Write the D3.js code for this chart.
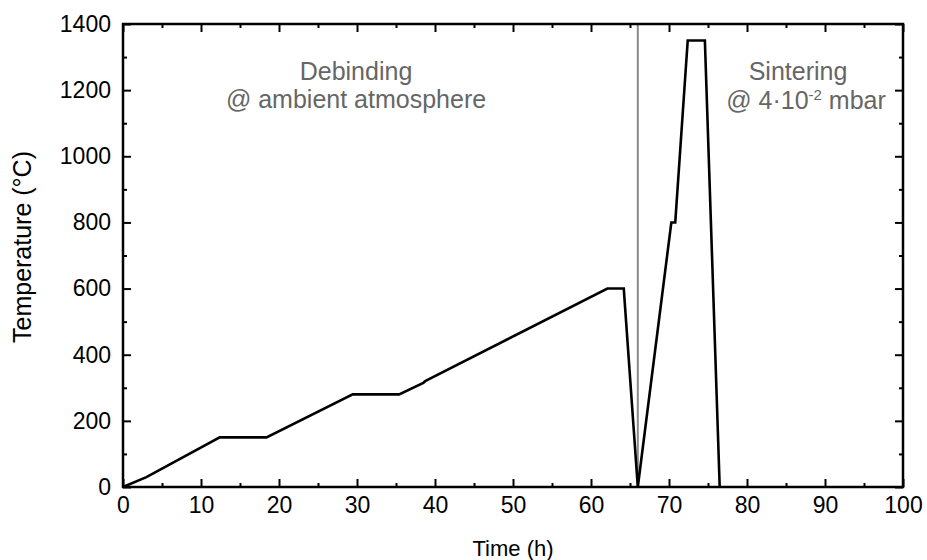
<!DOCTYPE html>
<html>
<head>
<meta charset="utf-8">
<script src="https://cdn.jsdelivr.net/npm/d3@7"></script>
<style>
  body { margin: 0; background: #fff; }
  text { font-family: "Liberation Sans", Arial, sans-serif; }
</style>
</head>
<body>
<svg id="chart" width="927" height="560"></svg>
<script>
// temperature profile
const timeH = [0, 3, 12.4, 18.4, 29.45, 35.4, 38.5, 38.8, 62.1, 64.2, 66.0, 70.3, 70.8, 72.4, 74.6, 76.5];
const tempC = [0, 30, 150, 150, 280, 280, 315, 321, 600, 600, 0, 800, 800, 1350, 1350, 0];
const xTicks = [0, 10, 20, 30, 40, 50, 60, 70, 80, 90, 100];
const yTicks = [0, 200, 400, 600, 800, 1000, 1200, 1400];
const splitTime = 66;
const debindLabel = ["Debinding", "@ ambient atmosphere"];
const sinterLabel = ["Sintering", "@ 4\u00b710", "-2", " mbar"];

const svg = d3.select("#chart");
const mLeft = 123, mRight = 903, mTop = 24, mBottom = 487;

let x = d3.scaleLinear().domain([0, 100]).range([mLeft, mRight]);
let y = d3.scaleLinear().domain([0, 1400]).range([mBottom, mTop]);

let xMinor = d3.range(5, 100, 10);
let yMinor = d3.range(100, 1400, 200);

// axes: ticks pointing inward, mirrored on top and right
function styleAxis(g) {
    g.selectAll(".domain").remove();
    g.selectAll("line").attr("stroke", "#000").attr("stroke-width", 2);
    g.selectAll("text").attr("font-size", 23).attr("fill", "#000")
        .attr("font-family", "'Liberation Sans', Arial, sans-serif");
}

svg.append("g").attr("transform", `translate(0,${mBottom})`)
    .call(d3.axisBottom(x).tickValues(xTicks).tickSize(-8).tickPadding(10).tickFormat(d3.format("d")))
    .call(styleAxis);
svg.append("g").attr("transform", `translate(0,${mBottom})`)
    .call(d3.axisBottom(x).tickValues(xMinor).tickSize(-4).tickFormat(""))
    .call(styleAxis);
svg.append("g").attr("transform", `translate(0,${mTop})`)
    .call(d3.axisTop(x).tickValues(xTicks).tickSize(-8).tickFormat(""))
    .call(styleAxis);
svg.append("g").attr("transform", `translate(0,${mTop})`)
    .call(d3.axisTop(x).tickValues(xMinor).tickSize(-4).tickFormat(""))
    .call(styleAxis);

svg.append("g").attr("transform", `translate(${mLeft},0)`)
    .call(d3.axisLeft(y).tickValues(yTicks).tickSize(-8).tickPadding(12).tickFormat(d3.format("d")))
    .call(styleAxis);
svg.append("g").attr("transform", `translate(${mLeft},0)`)
    .call(d3.axisLeft(y).tickValues(yMinor).tickSize(-4).tickFormat(""))
    .call(styleAxis);
svg.append("g").attr("transform", `translate(${mRight},0)`)
    .call(d3.axisRight(y).tickValues(yTicks).tickSize(-8).tickFormat(""))
    .call(styleAxis);
svg.append("g").attr("transform", `translate(${mRight},0)`)
    .call(d3.axisRight(y).tickValues(yMinor).tickSize(-4).tickFormat(""))
    .call(styleAxis);

// divider between debinding and sintering
svg.append("line")
    .attr("x1", x(splitTime)).attr("x2", x(splitTime))
    .attr("y1", mTop).attr("y2", mBottom)
    .attr("stroke", "#888").attr("stroke-width", 2);

let line = d3.line().x(d => x(d[0])).y(d => y(d[1]));
svg.append("path")
    .datum(d3.zip(timeH, tempC))
    .attr("d", line)
    .attr("fill", "none")
    .attr("stroke", "#000")
    .attr("stroke-width", 2.6)
    .attr("stroke-linejoin", "miter");

// frame
svg.append("rect")
    .attr("x", mLeft).attr("y", mTop)
    .attr("width", mRight - mLeft).attr("height", mBottom - mTop)
    .attr("fill", "none").attr("stroke", "#000").attr("stroke-width", 2.5);

// axis titles
svg.append("text")
    .attr("x", (mLeft + mRight) / 2).attr("y", 556)
    .attr("text-anchor", "middle").attr("font-size", 22)
    .text("Time (h)");
svg.append("text")
    .attr("transform", `translate(31,247) rotate(-90)`)
    .attr("text-anchor", "middle").attr("font-size", 25)
    .text("Temperature (\u00b0C)");

// annotations
let gray = "#666";
svg.append("text").attr("x", 356).attr("y", 80)
    .attr("text-anchor", "middle").attr("font-size", 25).attr("fill", gray)
    .text(debindLabel[0]);
svg.append("text").attr("x", 356).attr("y", 108)
    .attr("text-anchor", "middle").attr("font-size", 25).attr("fill", gray)
    .text(debindLabel[1]);
svg.append("text").attr("x", 798).attr("y", 80)
    .attr("text-anchor", "middle").attr("font-size", 25).attr("fill", gray)
    .text(sinterLabel[0]);
let t2 = svg.append("text").attr("x", 806).attr("y", 109)
    .attr("text-anchor", "middle").attr("font-size", 25).attr("fill", gray);
t2.append("tspan").text(sinterLabel[1]);
t2.append("tspan").attr("font-size", 15).attr("dy", -9).text(sinterLabel[2]);
t2.append("tspan").attr("dy", 9).text(sinterLabel[3]);
</script>
</body>
</html>
